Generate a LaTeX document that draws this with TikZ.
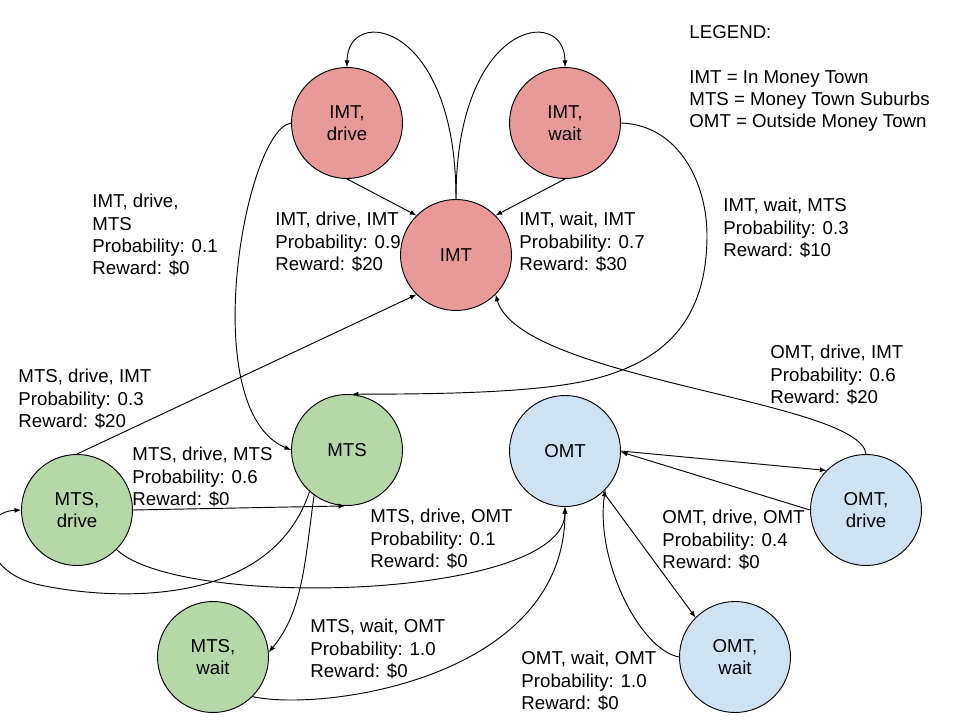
\documentclass[tikz,border=0pt]{standalone}
\usepackage{fontspec}
\setmainfont{Liberation Sans}
\usepackage[usenames,dvipsnames]{xcolor}
\usepackage{tikz}

\definecolor{imtred}{HTML}{EA9999}
\definecolor{mtsgreen}{HTML}{B6D7A8}
\definecolor{omtblue}{HTML}{CFE2F3}

\begin{document}
\begin{tikzpicture}[x=0.75pt,y=-0.75pt,line width=0.7pt,
  every node/.style={font=\fontsize{14}{16.7}\selectfont},
  state/.style={draw,circle,minimum size=83.25pt,inner sep=0pt,align=center},
  lbl/.style={anchor=north west,inner sep=0pt,align=left}]
  \useasboundingbox (0,0) rectangle (960,720);

  \node[state,fill=imtred] (imtdrive) at (347,123) {IMT,\\drive};
  \node[state,fill=imtred] (imtwait) at (565,123) {IMT,\\wait};
  \node[state,fill=imtred] (imt) at (456,255) {IMT};

  \node[state,fill=mtsgreen] (mts) at (347,450) {MTS};
  \node[state,fill=mtsgreen] (mtsdrive) at (77,510) {MTS,\\drive};
  \node[state,fill=mtsgreen] (mtswait) at (213,657) {MTS,\\wait};

  \node[state,fill=omtblue] (omt) at (565,451) {OMT};
  \node[state,fill=omtblue] (omtdrive) at (866,510) {OMT,\\drive};
  \node[state,fill=omtblue] (omtwait) at (735,657) {OMT,\\wait};

  \node[lbl] (legend) at (689,25) {LEGEND:\\[16.7pt]IMT = In Money Town\\MTS = Money Town Suburbs\\OMT = Outside Money Town};

  \draw [-latex] (imt.90) .. controls (456,20) and (347,5) .. (imtdrive.90);
  \draw [-latex] (imt.90) .. controls (456,20) and (565,5) .. (imtwait.90);
  \path [-latex] (imtdrive.-90) edge (imt.135);
  \path [-latex] (imtwait.-90) edge (imt.45);

  \node[lbl] (lbldriveimt) at (275,212) {IMT, drive, IMT\\Probability: 0.9\\Reward: \$20};
  \node[lbl] (lblwaitimt) at (519,212) {IMT, wait, IMT\\Probability: 0.7\\Reward: \$30};

  \draw [-latex] (imtdrive.180) .. controls (245,130) and (195,410) .. (mts.180);
  \node[lbl] (lbldrivemts) at (92,194) {IMT, drive,\\MTS\\Probability: 0.1\\Reward: \$0};

  \draw [-latex] (imtwait.0) .. controls (680,125) and (707,185) .. (707,235)
    .. controls (707,320) and (665,362) .. (590,380)
    .. controls (530,394) and (420,394) .. (mts.85);
  \node[lbl] (lblwaitmts) at (723,198) {IMT, wait, MTS\\Probability: 0.3\\Reward: \$10};

  \path [-latex] (mtsdrive.90) edge (imt.225);
  \node[lbl] (lblmtsimt) at (18,369) {MTS, drive, IMT\\Probability: 0.3\\Reward: \$20};

  \path [-latex] (mtsdrive.0) edge (mts.268);
  \draw [-latex] (mts.228) .. controls (270,610) and (110,600) .. (40,585)
    .. controls (-22,572) and (-24,512) .. (mtsdrive.180);
  \node[lbl] (lblmtsmts) at (132,447) {MTS, drive, MTS\\Probability: 0.6\\Reward: \$0};

  \draw [-latex] (mts.234) .. controls (305,560) and (303,612) .. (mtswait.5);

  \draw [-latex] (mtsdrive.-45) .. controls (180,610) and (565,600) .. (omt.-90);
  \node[lbl] (lblmtsomt) at (370,509) {MTS, drive, OMT\\Probability: 0.1\\Reward: \$0};

  \draw [-latex] (mtswait.-45) .. controls (320,712) and (565,680) .. (omt.-90);
  \node[lbl] (lblmtswaitomt) at (310,619) {MTS, wait, OMT\\Probability: 1.0\\Reward: \$0};

  \path [-latex] (omt.0) edge (omtdrive.135);
  \path [-latex] (omtdrive.180) edge (omt.-1);
  \node[lbl] (lblomtomt) at (662,510) {OMT, drive, OMT\\Probability: 0.4\\Reward: \$0};

  \draw [-latex] (omtdrive.90) .. controls (860,400) and (520,380) .. (imt.-45);
  \node[lbl] (lblomtimt) at (770,345) {OMT, drive, IMT\\Probability: 0.6\\Reward: \$20};

  \path [-latex] (omt.-47) edge (omtwait.135);
  \draw [-latex] (omtwait.180) .. controls (640,650) and (595,560) .. (omt.-44);
  \node[lbl] (lblomtwaitomt) at (521,651) {OMT, wait, OMT\\Probability: 1.0\\Reward: \$0};

\end{tikzpicture}
\end{document}
